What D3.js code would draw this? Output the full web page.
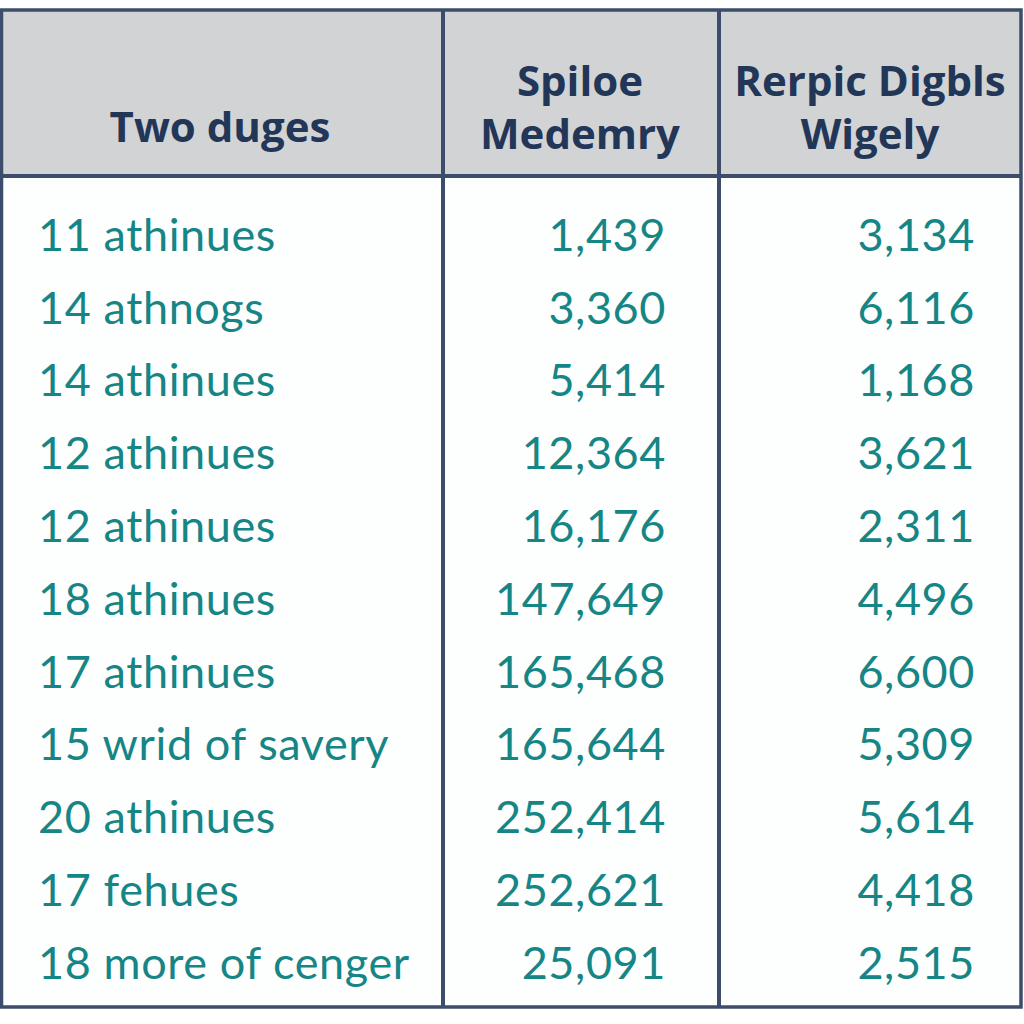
<!DOCTYPE html>
<html><head><meta charset="utf-8">
<script src="https://cdn.jsdelivr.net/npm/d3@7"></script>
<style>html,body{margin:0;padding:0;background:#fff;}svg{display:block;}</style>
</head><body>
<script>
const headers = [["Two duges"], ["Spiloe", "Medemry"], ["Rerpic Digbls", "Wigely"]];
const rowLabels = ["11 athinues","14 athnogs","14 athinues","12 athinues","12 athinues","18 athinues","17 athinues","15 wrid of savery","20 athinues","17 fehues","18 more of cenger"];
const col1 = ["1,439","3,360","5,414","12,364","16,176","147,649","165,468","165,644","252,414","252,621","25,091"];
const col2 = ["3,134","6,116","1,168","3,621","2,311","4,496","6,600","5,309","5,614","4,418","2,515"];

(function(){
const W = 1024, H = 1024;
const svg = d3.select("body").append("svg").attr("width", W).attr("height", H);
const border = "#3c4d6b", headBg = "#d2d3d5", headColor = "#223658", bodyColor = "#168585";

const tLeft = 1.5, tRight = 1021, tTop = 10, headBottom = 176, tBottom = 1007;
const colEdges = [tLeft, 443, 719, tRight];

svg.append("rect").attr("x", tLeft).attr("y", tTop).attr("width", tRight-tLeft).attr("height", headBottom-tTop).attr("fill", headBg);
svg.append("rect").attr("x", tLeft).attr("y", headBottom).attr("width", tRight-tLeft).attr("height", tBottom-headBottom).attr("fill", "#fdfefe");

const y = d3.scaleBand().domain(d3.range(rowLabels.length)).range([199, 1000]).paddingInner(0);

const fontBody = "Lato, 'Open Sans', sans-serif";
const g = svg.append("g").attr("font-family", fontBody).attr("font-size", 45).attr("letter-spacing", 0.6).attr("fill", bodyColor);
g.selectAll("text.lab").data(rowLabels).join("text").attr("class","lab")
  .attr("x", 38).attr("y", (d,i)=>y(i)+y.bandwidth()/2).attr("dy","0.34em").text(d=>d);
g.selectAll("text.c1").data(col1).join("text").attr("class","c1")
  .attr("x", 666).attr("text-anchor","end").attr("y", (d,i)=>y(i)+y.bandwidth()/2).attr("dy","0.34em").text(d=>d);
g.selectAll("text.c2").data(col2).join("text").attr("class","c2")
  .attr("x", 975).attr("text-anchor","end").attr("y", (d,i)=>y(i)+y.bandwidth()/2).attr("dy","0.34em").text(d=>d);

const hg = svg.append("g").attr("font-family", "'Open Sans', sans-serif").attr("font-weight", 700).attr("font-size", 42).attr("fill", headColor);
const hCenters = [220, 580, 870];
headers.forEach((lines, i) => {
  const baseYs = lines.length === 1 ? [142] : [96, 149];
  lines.forEach((t, j) => {
    hg.append("text").attr("x", hCenters[i]).attr("y", baseYs[j]).attr("text-anchor","middle").text(t);
  });
});

const lg = svg.append("g").attr("stroke", border).attr("fill","none");
lg.append("rect").attr("x", tLeft).attr("y", tTop).attr("width", tRight-tLeft).attr("height", tBottom-tTop).attr("stroke-width", 3.5);
lg.append("line").attr("x1", tLeft).attr("x2", tRight).attr("y1", headBottom).attr("y2", headBottom).attr("stroke-width", 4);
[colEdges[1], colEdges[2]].forEach(x => lg.append("line").attr("x1", x).attr("x2", x).attr("y1", tTop).attr("y2", tBottom).attr("stroke-width", 4));
})();
</script>
</body></html>
